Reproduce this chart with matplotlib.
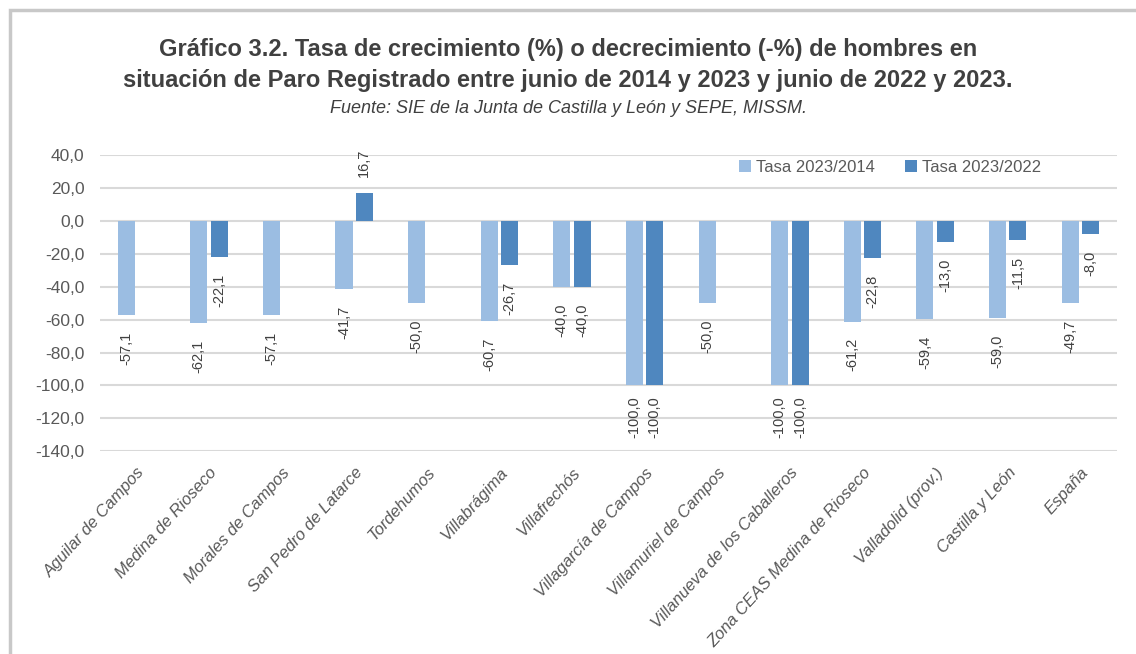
import numpy as np
import matplotlib.pyplot as plt
from matplotlib.patches import Rectangle

plt.rcParams['font.family'] = ['Liberation Sans', 'DejaVu Sans']

municipios = ['Aguilar de Campos', 'Medina de Rioseco', 'Morales de Campos',
              'San Pedro de Latarce', 'Tordehumos', 'Villabrágima', 'Villafrechós',
              'Villagarcía de Campos', 'Villamuriel de Campos',
              'Villanueva de los Caballeros', 'Zona CEAS Medina de Rioseco',
              'Valladolid (prov.)', 'Castilla y León', 'España']
tasa_2014 = [-57.1, -62.1, -57.1, -41.7, -50.0, -60.7, -40.0, -100.0, -50.0,
             -100.0, -61.2, -59.4, -59.0, -49.7]
tasa_2022 = [np.nan, -22.1, np.nan, 16.7, np.nan, -26.7, -40.0, -100.0, np.nan,
             -100.0, -22.8, -13.0, -11.5, -8.0]
series = ['Tasa 2023/2014', 'Tasa 2023/2022']
colores = ['#9BBDE2', '#4F87BF']
yticks = np.arange(-140, 41, 20)

fig = plt.figure(figsize=(11.36, 6.54), dpi=100, facecolor='white')
fig.patches.append(Rectangle((0.009, -0.01), 1.2, 0.995, transform=fig.transFigure,
                             fill=False, edgecolor='#c8c8c8', linewidth=2.5))
ax = fig.add_axes([0.088, 0.310, 0.895, 0.453])

x = np.arange(len(municipios))
w = 0.235
off = 0.14
gris = '#595959'

for vals, dx, col, nom in [(tasa_2014, -off, colores[0], series[0]),
                           (tasa_2022, off, colores[1], series[1])]:
    vals = np.array(vals, dtype=float)
    ax.bar(x + dx, vals, width=w, color=col, label=nom, zorder=3)
    for xi, v in zip(x + dx, vals):
        if np.isnan(v):
            continue
        txt = f'{v:.1f}'.replace('.', ',')
        if v < 0:
            dy = -8 if v <= -100 else -12
            ax.annotate(txt, (xi, v), xytext=(0, dy), textcoords='offset points',
                        rotation=90, ha='center', va='top', fontsize=10.5,
                        color='#404040')
        else:
            ax.annotate(txt, (xi, v), xytext=(0, 12), textcoords='offset points',
                        rotation=90, ha='center', va='bottom', fontsize=10.5,
                        color='#404040')

ax.set_xlim(-0.5, len(municipios) - 0.5)
ax.set_ylim(-140, 40)
ax.set_yticks(yticks)
ax.set_yticklabels([f'{t:.1f}'.replace('.', ',') for t in yticks], fontsize=12.5,
                   color=gris)
ax.set_xticks(x)
ax.set_xticklabels(municipios, rotation=48, ha='right', rotation_mode='anchor',
                   fontsize=12, color=gris, fontstyle='italic')
ax.tick_params(axis='y', length=0, pad=11)
ax.tick_params(axis='x', length=0, pad=10)
ax.yaxis.grid(True, color='#d9d9d9', linewidth=1.5, zorder=0)
for s in ax.spines.values():
    s.set_visible(False)

leg = ax.legend(loc='upper right', bbox_to_anchor=(0.94, 1.035), ncol=2, frameon=False,
                fontsize=12, handlelength=0.7, handleheight=0.7, columnspacing=1.8,
                handletextpad=0.3)
for t in leg.get_texts():
    t.set_color(gris)

fig.text(0.5, 0.925, 'Gráfico 3.2. Tasa de crecimiento (%) o decrecimiento (-%) de hombres en',
         ha='center', va='center', fontsize=17, fontweight='bold', color='#404040')
fig.text(0.5, 0.877, 'situación de Paro Registrado entre junio de 2014 y 2023 y junio de 2022 y 2023.',
         ha='center', va='center', fontsize=17, fontweight='bold', color='#404040')
fig.text(0.5, 0.834, 'Fuente: SIE de la Junta de Castilla y León y SEPE, MISSM.',
         ha='center', va='center', fontsize=13, fontstyle='italic', color='#404040')

fig.savefig('out.png', dpi=100)
